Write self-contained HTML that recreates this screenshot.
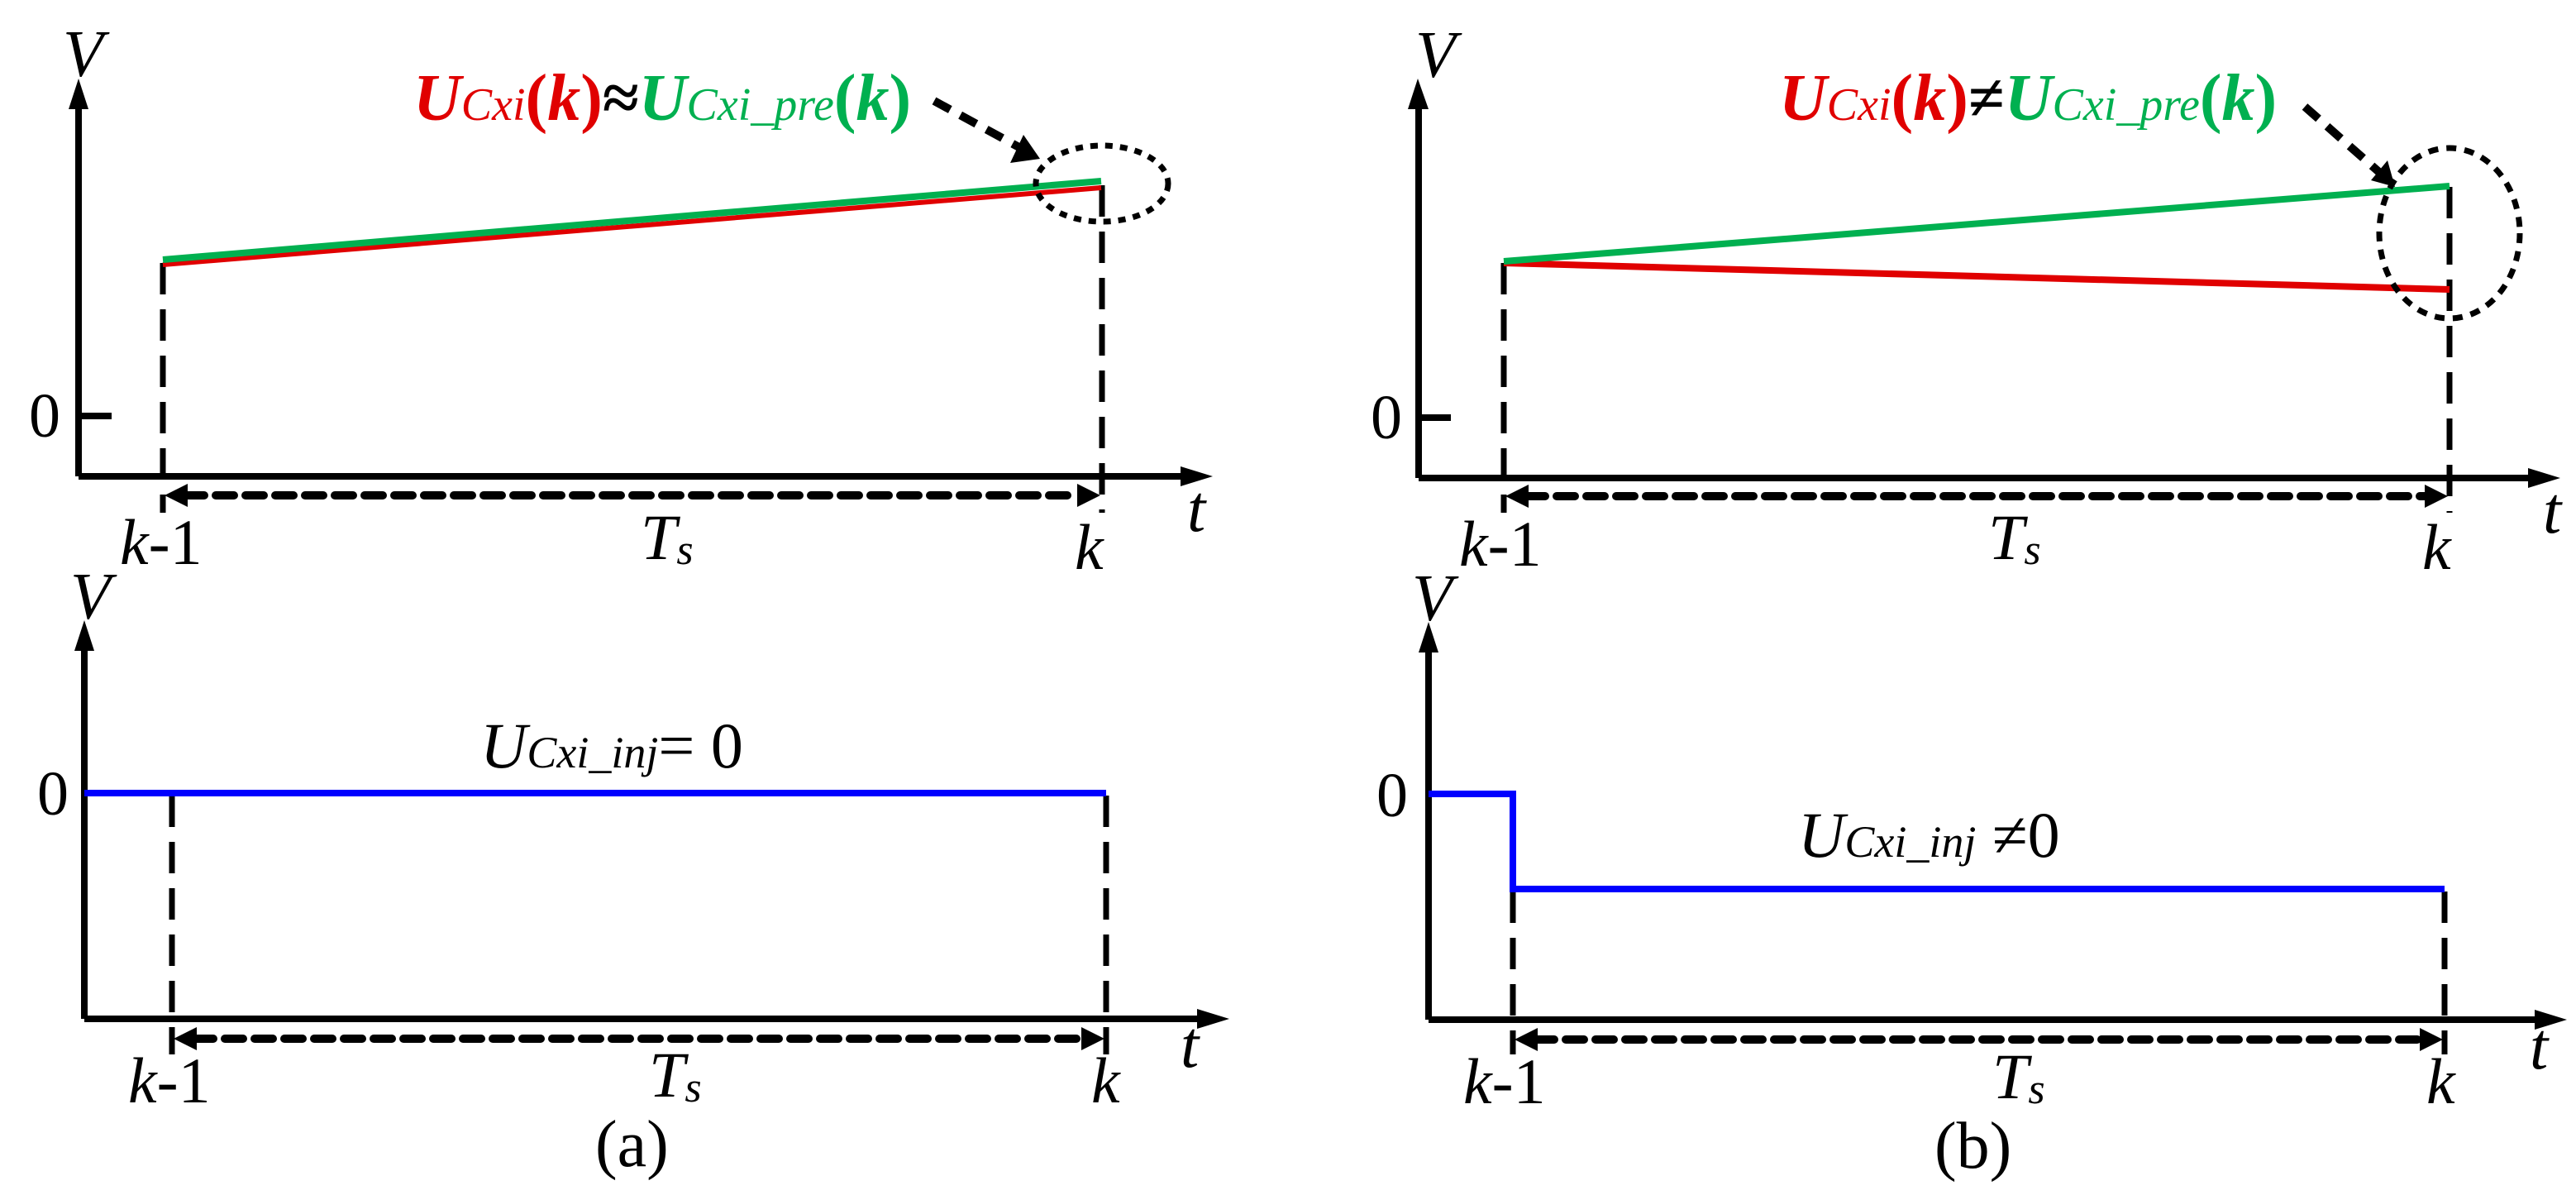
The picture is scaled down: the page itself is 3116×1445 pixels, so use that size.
<!DOCTYPE html>
<html><head><meta charset="utf-8"><style>html,body{margin:0;padding:0;background:#fff}svg{display:block}text{font-family:"Liberation Serif","DejaVu Serif",serif}</style></head>
<body>
<svg width="3116" height="1445" viewBox="0 0 3116 1445" xmlns="http://www.w3.org/2000/svg">
<g stroke="#000" fill="none">
<path d="M95,576 V130" stroke-width="8"/><path d="M83,132 L95,95 L107,132 z" fill="#000" stroke="none"/>
<path d="M95,576 H1430" stroke-width="8"/><path d="M1428,564 L1467,576 L1428,588 z" fill="#000" stroke="none"/>
<path d="M95,503 H135" stroke-width="8"/>
<path d="M1716,578 V130" stroke-width="8"/><path d="M1703,132 L1715,95 L1728,132 z" fill="#000" stroke="none"/>
<path d="M1716,578 H3060" stroke-width="8"/><path d="M3058,566 L3097,578 L3058,590 z" fill="#000" stroke="none"/>
<path d="M1716,505 H1755" stroke-width="8"/>
<path d="M102,1232 V785" stroke-width="8"/><path d="M90,787 L102,750 L114,787 z" fill="#000" stroke="none"/>
<path d="M102,1232 H1450" stroke-width="8"/><path d="M1448,1220 L1487,1232 L1448,1244 z" fill="#000" stroke="none"/>
<path d="M102,959 H135" stroke-width="8"/>
<path d="M1728,1233 V787" stroke-width="8"/><path d="M1716,789 L1728,752 L1740,789 z" fill="#000" stroke="none"/>
<path d="M1728,1233 H3068" stroke-width="8"/><path d="M3066,1221 L3105,1233 L3066,1245 z" fill="#000" stroke="none"/>
<path d="M1728,960 H1760" stroke-width="8"/>
<g stroke-width="7" stroke-dasharray="38,18">
<path d="M197,318 V620"/><path d="M1333,224 V620"/>
<path d="M1819,318 V620"/><path d="M2963,226 V620"/>
<path d="M208,962 V1275"/><path d="M1338,962 V1275"/>
<path d="M1830,1078 V1275"/><path d="M2957,1078 V1275"/>
</g>
<g stroke-width="10" stroke-dasharray="22,14" stroke-linecap="round">
<path d="M225,599 H1305"/><path d="M1847,600 H2935"/>
<path d="M236,1256 H1310"/><path d="M1858,1257 H2929"/>
</g>
<g fill="#000" stroke="none">
<path d="M199,599 L227,585 L227,613 z"/><path d="M1331,599 L1303,585 L1303,613 z"/>
<path d="M1821,600 L1849,586 L1849,614 z"/><path d="M2961,600 L2933,586 L2933,614 z"/>
<path d="M210,1256 L238,1242 L238,1270 z"/><path d="M1336,1256 L1308,1242 L1308,1270 z"/>
<path d="M1832,1257 L1860,1243 L1860,1271 z"/><path d="M2955,1257 L2927,1243 L2927,1271 z"/>
</g>
<path d="M197,320 L1332,227" stroke="#e00000" stroke-width="6"/>
<path d="M197,314 L1332,219" stroke="#00b050" stroke-width="8"/>
<path d="M1819,318 L2963,350" stroke="#e00000" stroke-width="8"/>
<path d="M1819,316 L2963,225" stroke="#00b050" stroke-width="8"/>
<path d="M102,959 H1338" stroke="#0000ff" stroke-width="8"/>
<path d="M1728,960 H1830 V1075 H2957" stroke="#0000ff" stroke-width="8"/>
<ellipse cx="1333" cy="222" rx="80" ry="46" stroke-width="7" stroke-dasharray="9,9"/>
<ellipse cx="2963" cy="282" rx="85" ry="103" stroke-width="7" stroke-dasharray="12,10"/>
<path d="M1130,122 L1240,182" stroke-width="10" stroke-dasharray="22,14"/>
<path d="M1222,197 L1258,192 L1238,163 z" fill="#000" stroke="none"/>
<path d="M2788,129 L2880,210" stroke-width="10" stroke-dasharray="22,14"/>
<path d="M2868,218 L2897,226 L2888,194 z" fill="#000" stroke="none"/>
</g>
<g font-style="italic" font-size="80" fill="#000">
<text x="76" y="92">V</text><text x="1712" y="93">V</text>
<text x="85" y="748">V</text><text x="1708" y="750">V</text>
<text x="1436" y="642">t</text><text x="3076" y="644">t</text>
<text x="1428" y="1290">t</text><text x="3060" y="1292">t</text>
</g>
<g font-size="80" fill="#000">
<text x="35" y="528" font-size="76">0</text><text x="1658" y="530" font-size="76">0</text>
<text x="45" y="985" font-size="76">0</text><text x="1665" y="987" font-size="76">0</text>
<text x="720" y="1410">(a)</text><text x="2340" y="1412">(b)</text>
</g>
<g font-size="78" fill="#000" font-style="italic">
<text x="145" y="682">k<tspan font-style="normal">-1</tspan></text>
<text x="1300" y="688">k</text>
<text x="775" y="676">T<tspan font-size="52" dy="6">s</tspan></text>
<text x="1765" y="684">k<tspan font-style="normal">-1</tspan></text>
<text x="2930" y="688">k</text>
<text x="2405" y="676">T<tspan font-size="52" dy="6">s</tspan></text>
<text x="155" y="1333">k<tspan font-style="normal">-1</tspan></text>
<text x="1320" y="1333">k</text>
<text x="785" y="1326">T<tspan font-size="52" dy="6">s</tspan></text>
<text x="1770" y="1334">k<tspan font-style="normal">-1</tspan></text>
<text x="2935" y="1334">k</text>
<text x="2410" y="1328">T<tspan font-size="52" dy="6">s</tspan></text>
</g>
<text x="500" y="145" font-size="80" font-weight="bold" font-style="italic" fill="#e00000">U<tspan font-size="56" font-weight="normal">Cxi</tspan><tspan font-style="normal">(</tspan>k<tspan font-style="normal">)</tspan><tspan fill="#000" font-style="normal">≈</tspan><tspan fill="#00b050">U<tspan font-size="56" font-weight="normal">Cxi_pre</tspan><tspan font-style="normal">(</tspan>k<tspan font-style="normal">)</tspan></tspan></text>
<text x="2152" y="145" font-size="80" font-weight="bold" font-style="italic" fill="#e00000">U<tspan font-size="56" font-weight="normal">Cxi</tspan><tspan font-style="normal">(</tspan>k<tspan font-style="normal">)</tspan><tspan fill="#000" font-style="normal">≠</tspan><tspan fill="#00b050">U<tspan font-size="56" font-weight="normal">Cxi_pre</tspan><tspan font-style="normal">(</tspan>k<tspan font-style="normal">)</tspan></tspan></text>
<text x="581" y="928" font-size="78" font-style="italic" fill="#000">U<tspan font-size="54">Cxi_inj</tspan><tspan font-style="normal">= 0</tspan></text>
<text x="2175" y="1036" font-size="78" font-style="italic" fill="#000">U<tspan font-size="54">Cxi_inj</tspan><tspan font-style="normal"> ≠0</tspan></text>
</svg>
</body></html>
